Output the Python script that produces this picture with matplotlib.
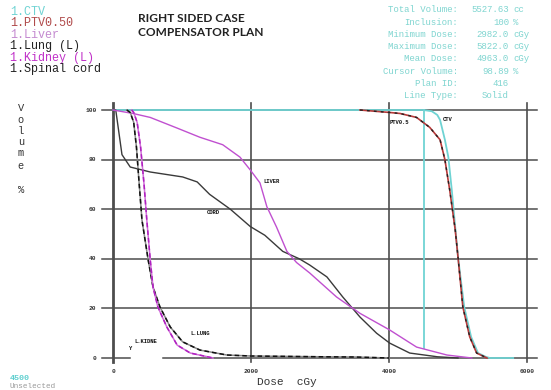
import matplotlib
matplotlib.use("Agg")
import matplotlib.pyplot as plt

# %%
# Dose volume histogram values (dose in cGy, volume in %)
ctv_dose = [0, 4500, 4620, 4700, 4740, 4810, 4860, 4910, 5000, 5090, 5190, 5290, 5400, 5460, 5800]
ctv_vol = [100, 100, 99.5, 98, 96, 88, 81, 67.7, 40.7, 20.6, 8.5, 2, 0.5, 0, 0]

ptv_dose = [3580, 4010, 4160, 4400, 4590, 4740, 4810, 4880, 4960, 5000, 5070, 5170, 5270, 5420]
ptv_vol = [100, 99, 98.6, 97, 93, 88, 80, 67.7, 51.6, 40.7, 20.6, 8.5, 2, 0]

liver_dose = [0, 290, 540, 930, 1260, 1590, 1840, 1990, 2130, 2230, 2370, 2520, 2660,
              2850, 3240, 3580, 4010, 4400, 4840, 5200]
liver_vol = [100, 98.6, 97, 92.7, 89, 86, 81, 75.8, 70.6, 61, 52.8, 43, 38.5,
             34.3, 24.6, 18, 11.3, 4.4, 1.2, 0]

lung_dose = [200, 250, 300, 340, 380, 420, 510, 580, 680, 830, 1010, 1260, 1650,
             2000, 3000, 3500, 4000]
lung_vol = [100, 99, 95, 85, 70, 55.6, 39.5, 28.6, 20.6, 12.5, 6.5, 3.2, 1.2,
            0.8, 0.5, 0.4, 0]

kidney_dose = [270, 300, 350, 400, 450, 490, 540, 580, 650, 780, 930, 1120, 1450]
kidney_vol = [100, 99, 95, 85, 70, 55.6, 39.5, 28.6, 20.6, 12.5, 5.2, 2, 0]

cord_dose = [0, 40, 80, 130, 250, 540, 1010, 1220, 1400, 1700, 1990, 2200, 2460, 2700,
             2850, 3100, 3330, 3580, 3820, 4010, 4300, 4700, 5000]
cord_vol = [100, 100, 92, 82, 77, 75, 73, 71, 66, 60, 53, 49.5, 43, 40,
            37.5, 32.7, 24.6, 16.5, 10, 6, 2, 0.5, 0]

cursor_dose = 4500
cursor_top, cursor_bottom = 100, 4

x_ticks = [0, 2000, 4000, 6000]
y_ticks = [0, 20, 40, 60, 80, 100]

legend_lines = ["1.CTV", "1.PTV0.50", "1.Liver", "1.Lung (L)", "1.Kidney (L)", "1.Spinal cord"]
legend_colors = ["#6fd3d3", "#b04a4a", "#c48ad0", "#222222", "#c030c8", "#222222"]

info_labels = ["Total Volume:", "Inclusion:", "Minimum Dose:", "Maximum Dose:",
               "Mean Dose:", "Cursor Volume:", "Plan ID:", "Line Type:"]
info_values = ["5527.63", "100", "2982.0", "5822.0", "4963.0", "98.89", "416", "Solid"]
info_units = ["cc", "%", "cGy", "cGy", "cGy", "%", "", ""]

# %%
W, H = 551, 390
fig = plt.figure(figsize=(W / 100, H / 100), dpi=100)
fig.patch.set_facecolor("white")

# axes placed so that dose 0 -> px 113, 6000 -> px 527 ; vol 100 -> px 110, 0 -> px 358
px_l, px_r, py_t, py_b = 60, 545, 80, 375
ax = fig.add_axes([px_l / W, (H - py_b) / H, (px_r - px_l) / W, (py_b - py_t) / H])
sx = (527 - 113) / 6000
sy = (358 - 110) / 100
ax.set_xlim((px_l - 113) / sx, (px_r - 113) / sx)
ax.set_ylim((358 - py_b) / sy, (358 - py_t) / sy)
ax.axis("off")

grid_c = "#4d4d4d"
mono = "Liberation Mono"

# grid
for y in y_ticks:
    if y == 0:
        ax.plot([-160, 250], [y, y], color=grid_c, lw=1.1, zorder=1)
        ax.plot([720, 6150], [y, y], color=grid_c, lw=1.1, zorder=1)
    else:
        ax.plot([-160, 6150], [y, y], color=grid_c, lw=1.1, zorder=1)
    ax.text(-240, y, str(y), ha="right", va="center", fontsize=4.5, family=mono,
            fontweight="bold", color="#333333")
for x in x_ticks:
    ax.plot([x, x], [102.8, -1.6], color=grid_c, lw=2.0 if x == 0 else 1.2, zorder=1)
    ax.text(x, -5.5, str(x), ha="center", va="center", fontsize=4.5, family=mono,
            fontweight="bold", color="#333333")

# curves
ax.plot(ctv_dose, ctv_vol, color="#6fd3d3", lw=1.3, zorder=2)
ax.plot([cursor_dose, cursor_dose], [cursor_top, cursor_bottom], color="#6fd3d3", lw=1.3, zorder=2)
ax.plot(cord_dose, cord_vol, color="#3a3a3a", lw=1.0, zorder=3)
ax.plot(liver_dose, liver_vol, color="#c050d0", lw=1.0, zorder=3)
ax.plot(lung_dose, lung_vol, color="#888888", lw=1.1, zorder=3)
ax.plot(lung_dose, lung_vol, color="#111111", lw=1.1, ls=(0, (3, 2)), zorder=3)
ax.plot(kidney_dose, kidney_vol, color="#d070d8", lw=1.1, zorder=3)
ax.plot(kidney_dose, kidney_vol, color="#b020c0", lw=1.1, ls=(0, (3, 2)), zorder=3)
ax.plot(ptv_dose, ptv_vol, color="#b83a3a", lw=1.2, zorder=4)
ax.plot(ptv_dose, ptv_vol, color="#222222", lw=1.0, ls=(0, (2, 3)), zorder=4)

# curve labels
lab = dict(fontsize=4, family=mono, fontweight="bold", color="#111111", zorder=5)
ax.text(4150, 95, "PTV0.5", ha="center", va="center", **lab)
ax.text(4850, 96, "CTV", ha="center", va="center", **lab)
ax.text(2290, 71, "LIVER", ha="center", va="center", **lab)
ax.text(1460, 58.8, "CORD", ha="center", va="center", **lab)
ax.text(1260, 10, "L.LUNG", ha="center", va="center", **lab)
ax.text(470, 6.5, "L.KIDNE", ha="center", va="center", **lab)
ax.text(260, 4, "Y", ha="center", va="center", **lab)

# legend block, top left
for i, (t, c) in enumerate(zip(legend_lines, legend_colors)):
    fig.text(10 / W, 1 - (12 + i * 11.4) / H, t, fontsize=8.5, family=mono, color=c,
             va="center", ha="left")

# title
for t, yp in [("RIGHT SIDED CASE", 18), ("COMPENSATOR PLAN", 33)]:
    fig.text(138 / W, 1 - yp / H, t, fontsize=8.6, fontweight="bold",
             family="Lato", color="#222222", va="center")

# plan info, top right
info_c = "#7fd5d0"
for i, (l, v, u) in enumerate(zip(info_labels, info_values, info_units)):
    y = 1 - (10 + i * 12.2) / H
    fig.text(458 / W, y, l, fontsize=6.5, family=mono, color=info_c, ha="right", va="center")
    fig.text(509 / W, y, v, fontsize=6.5, family=mono, color=info_c, ha="right", va="center")
    if u:
        fig.text(513 / W, y, u, fontsize=6.5, family=mono, color=info_c, ha="left", va="center")

# y axis label, stacked letters
for ch, yp in zip(["V", "o", "l", "u", "m", "e", "%"], [108, 120, 131, 142, 153, 166, 190]):
    fig.text(21 / W, 1 - yp / H, ch, fontsize=7.5, family=mono, color="#333333",
             ha="center", va="center")

fig.text(287 / W, 1 - 382 / H, "Dose  cGy", fontsize=8, family=mono, color="#333333",
         ha="center", va="center")

# cursor readout, bottom left
fig.text(10 / W, 1 - 379 / H, "4500", fontsize=6, family=mono, color="#5fcfcf",
         fontweight="bold", ha="left", va="center")
fig.text(10 / W, 1 - 386 / H, "Unselected", fontsize=5.5, family=mono, color="#999999",
         ha="left", va="center")

fig.savefig("out.png", dpi=100)
